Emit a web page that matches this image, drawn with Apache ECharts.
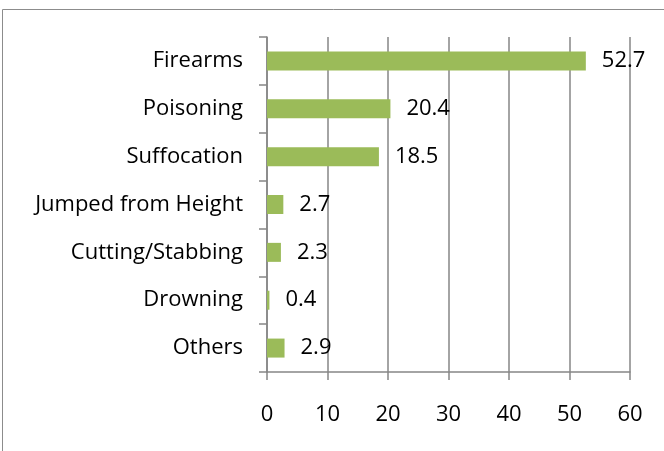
<!DOCTYPE html>
<html>
<head>
<meta charset="utf-8">
<script src="https://cdn.jsdelivr.net/npm/echarts@6/dist/echarts.min.js"></script>
<style>
  html, body { margin: 0; padding: 0; background: #fff; }
  #chart { width: 664px; height: 451px; }
</style>
</head>
<body>
<div id="chart"></div>
<script>
// Suicide methods, share in percent
const categories = ['Firearms', 'Poisoning', 'Suffocation', 'Jumped from Height', 'Cutting/Stabbing', 'Drowning', 'Others'];
const values = [52.7, 20.4, 18.5, 2.7, 2.3, 0.4, 2.9];
const xTicks = [0, 10, 20, 30, 40, 50, 60];

const FONT = 'Open Sans';
const FONT_SIZE = 22;
const chart = echarts.init(document.getElementById('chart'));
chart.setOption({
  animation: false,
  graphic: [{
    type: 'rect',
    shape: { x: 2.5, y: 9.5, width: 700, height: 500 },
    style: { fill: 'none', stroke: '#8c8c8c', lineWidth: 1 },
    silent: true
  }],
  grid: { left: 267, right: 34, top: 37, bottom: 79, containLabel: false },
  xAxis: {
    type: 'value',
    min: xTicks[0],
    max: xTicks[xTicks.length - 1],
    interval: 10,
    axisLine: { show: true, lineStyle: { color: '#868686', width: 1.5 } },
    axisTick: { show: true, length: 8, lineStyle: { color: '#868686', width: 1.5 } },
    splitLine: { show: true, lineStyle: { color: '#868686', width: 1.5 } },
    axisLabel: { color: '#000', fontFamily: FONT, fontSize: FONT_SIZE, margin: 32 }
  },
  yAxis: {
    type: 'category',
    data: categories,
    inverse: true,
    axisLine: { show: true, lineStyle: { color: '#868686', width: 1.5 } },
    axisTick: { show: true, length: 8, lineStyle: { color: '#868686', width: 1.5 } },
    axisLabel: { color: '#000', fontFamily: FONT, fontSize: FONT_SIZE, margin: 24 }
  },
  series: [{
    type: 'bar',
    data: values,
    barWidth: 19,
    itemStyle: { color: '#9bbb59' },
    label: {
      show: true,
      position: 'right',
      distance: 16,
      color: '#000',
      fontFamily: FONT,
      fontSize: FONT_SIZE
    }
  }]
});
</script>
</body>
</html>
